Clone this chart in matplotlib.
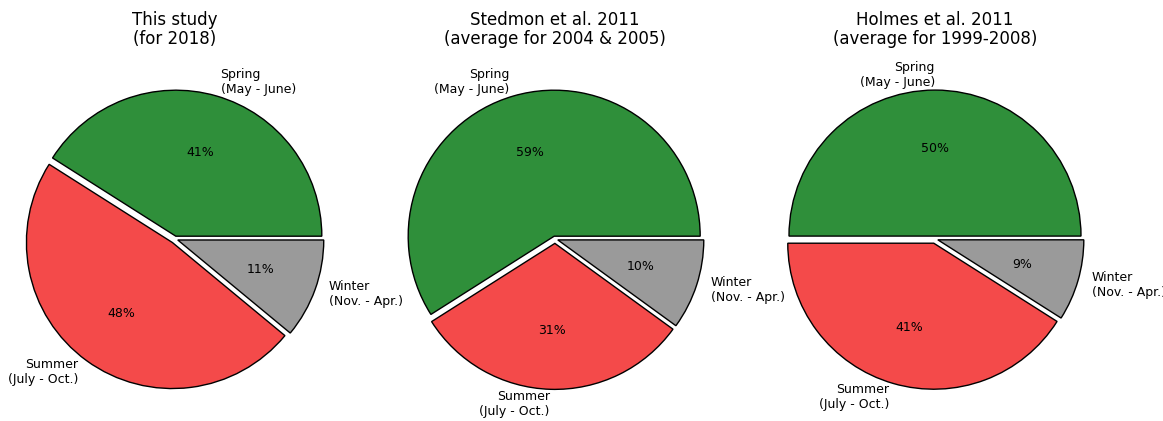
import matplotlib
matplotlib.use("Agg")
import matplotlib.pyplot as plt

# ---------------- data ----------------
seasons = ["Spring\n(May - June)", "Summer\n(July - Oct.)", "Winter\n(Nov. - Apr.)"]
this_study = [41, 48, 11]
stedmon = [59, 31, 10]
holmes = [50, 41, 9]
titles = ["This study\n(for 2018)",
          "Stedmon et al. 2011\n(average for 2004 & 2005)",
          "Holmes et al. 2011\n(average for 1999-2008)"]

COLORS = ["#2f8f3a", "#f44a4a", "#9a9a9a"]
EXPLODE = (0.02, 0.03, 0.02)

W, H = 1163, 421
fig = plt.figure(figsize=(W / 100, H / 100), dpi=100)

centers_x = [175, 555, 935]
cy = 239
R = 146  # pie radius in px
lim = 1.25
side = 2 * lim * R

for cx, vals, title in zip(centers_x, [this_study, stedmon, holmes], titles):
    ax = fig.add_axes([(cx - side / 2) / W, (H - cy - side / 2) / H, side / W, side / H])
    wedges, texts, autotexts = ax.pie(
        vals, labels=seasons, colors=COLORS, explode=EXPLODE,
        startangle=0, autopct="%1.0f%%",
        wedgeprops={"edgecolor": "black", "linewidth": 1},
        textprops={"fontsize": 9})
    ax.set_xlim(-lim, lim)
    ax.set_ylim(-lim, lim)
    ax.set_aspect("equal")
    fig.text(cx / W, 1 - 11 / H, title, ha="center", va="top", fontsize=12, linespacing=1.05)

fig.savefig("out.png", dpi=100)
